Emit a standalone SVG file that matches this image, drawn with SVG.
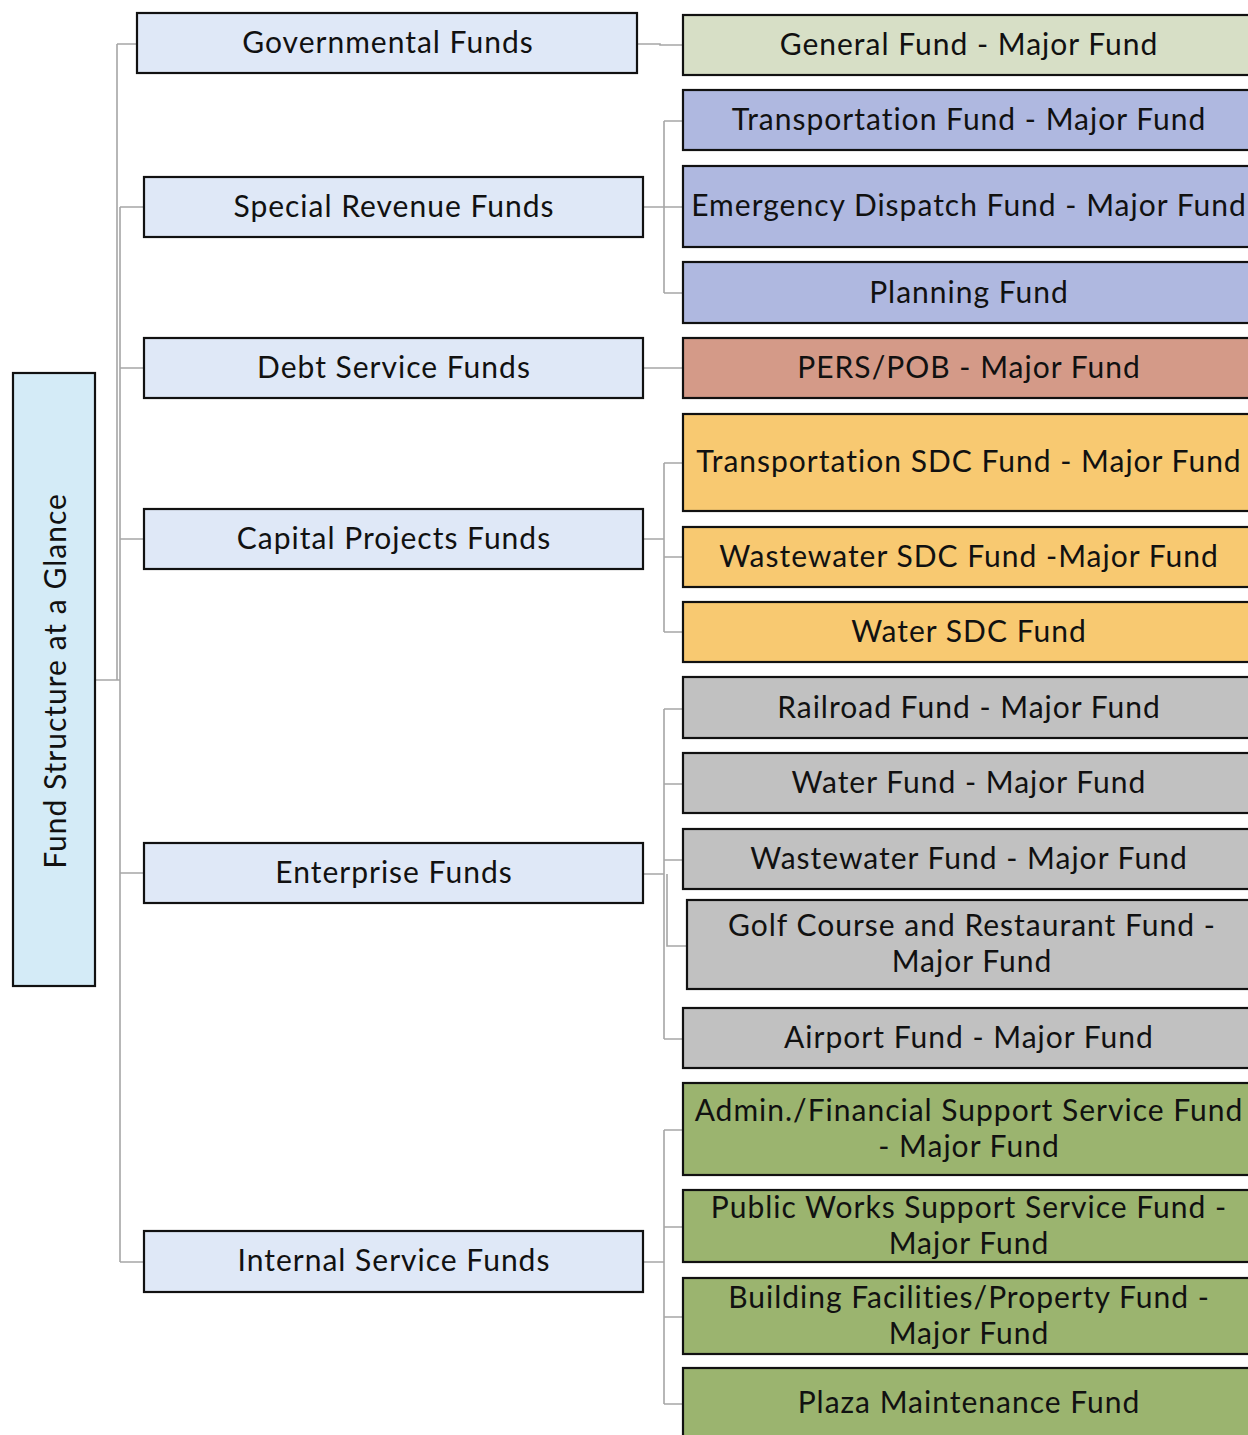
<svg xmlns="http://www.w3.org/2000/svg" width="1248" height="1435" viewBox="0 0 1248 1435">
<style>
.b{stroke:#111;stroke-width:2.2}
.l1{fill:#DFE8F7}
.t{font-family:Lato,"Noto Sans",sans-serif;font-size:30px;fill:#111;text-anchor:middle;letter-spacing:1px}
.c{fill:none;stroke:#A6A6A6;stroke-width:1.6}
.gen{fill:#D7DFC6}.blu{fill:#AFB8E0}.per{fill:#D49A88}.org{fill:#F8C971}.gry{fill:#C1C1C1}.grn{fill:#9BB46F}
</style>
<rect width="1248" height="1435" fill="#fff"/>
<g id="connectors" class="c">
<path d="M95 680H120M117 44V680M117 44H137M120 207V1262M120 207H144M120 368H144M120 539H144M120 873H144M120 1262H144"/>
<path d="M637 44H660V45H683"/>
<path d="M643 207H683M664 121V293M664 121H683M664 293H683"/>
<path d="M643 368H683"/>
<path d="M643 539H664M664 463V632M664 463H683M664 557H683M664 632H683"/>
<path d="M643 874H664M664 709V1039M664 709H683M664 784H683M664 860H683M667 874V946H687M664 1039H683"/>
<path d="M643 1262H664M664 1130V1404M664 1130H683M664 1227H683M664 1317H683M664 1404H683"/>
</g>
<g id="root"><rect class="b" x="13" y="373" width="82" height="613" fill="#D4EBF7"/><text class="t" transform="translate(66 681) rotate(-90)">Fund Structure at a Glance</text></g>
<g id="governmental"><rect class="b l1" x="137" y="13" width="500" height="60"/><text class="t" x="388" y="53">Governmental Funds</text></g>
<g id="special-revenue"><rect class="b l1" x="144" y="177" width="499" height="60"/><text class="t" x="394" y="217">Special Revenue Funds</text></g>
<g id="debt-service"><rect class="b l1" x="144" y="338" width="499" height="60"/><text class="t" x="394" y="378">Debt Service Funds</text></g>
<g id="capital-projects"><rect class="b l1" x="144" y="509" width="499" height="60"/><text class="t" x="394" y="549">Capital Projects Funds</text></g>
<g id="enterprise"><rect class="b l1" x="144" y="843" width="499" height="60"/><text class="t" x="394" y="883">Enterprise Funds</text></g>
<g id="internal-service"><rect class="b l1" x="144" y="1231" width="499" height="61"/><text class="t" x="394" y="1271">Internal Service Funds</text></g>
<g id="general"><rect class="b gen" x="683" y="15" width="580" height="60"/><text class="t" x="969" y="55">General Fund - Major Fund</text></g>
<g id="transportation"><rect class="b blu" x="683" y="90" width="580" height="60"/><text class="t" x="969" y="130">Transportation Fund - Major Fund</text></g>
<g id="emergency"><rect class="b blu" x="683" y="166" width="580" height="81"/><text class="t" x="969" y="216">Emergency Dispatch Fund - Major Fund</text></g>
<g id="planning"><rect class="b blu" x="683" y="262" width="580" height="61"/><text class="t" x="969" y="303">Planning Fund</text></g>
<g id="pers"><rect class="b per" x="683" y="338" width="580" height="60"/><text class="t" x="969" y="378">PERS/POB - Major Fund</text></g>
<g id="transportation-sdc"><rect class="b org" x="683" y="414" width="580" height="97"/><text class="t" x="969" y="472">Transportation SDC Fund - Major Fund</text></g>
<g id="wastewater-sdc"><rect class="b org" x="683" y="527" width="580" height="60"/><text class="t" x="969" y="567">Wastewater SDC Fund -Major Fund</text></g>
<g id="water-sdc"><rect class="b org" x="683" y="602" width="580" height="60"/><text class="t" x="969" y="642">Water SDC Fund</text></g>
<g id="railroad"><rect class="b gry" x="683" y="677" width="580" height="61"/><text class="t" x="969" y="718">Railroad Fund - Major Fund</text></g>
<g id="water"><rect class="b gry" x="683" y="753" width="580" height="60"/><text class="t" x="969" y="793">Water Fund - Major Fund</text></g>
<g id="wastewater"><rect class="b gry" x="683" y="829" width="580" height="60"/><text class="t" x="969" y="869">Wastewater Fund - Major Fund</text></g>
<g id="golf"><rect class="b gry" x="687" y="900" width="576" height="89"/><text class="t" x="972" y="936">Golf Course and Restaurant Fund -</text><text class="t" x="972" y="972">Major Fund</text></g>
<g id="airport"><rect class="b gry" x="683" y="1008" width="580" height="60"/><text class="t" x="969" y="1048">Airport Fund - Major Fund</text></g>
<g id="admin"><rect class="b grn" x="683" y="1083" width="580" height="92"/><text class="t" x="969" y="1121">Admin./Financial Support Service Fund</text><text class="t" x="969" y="1157">- Major Fund</text></g>
<g id="public-works"><rect class="b grn" x="683" y="1190" width="580" height="72"/><text class="t" x="969" y="1218">Public Works Support Service Fund -</text><text class="t" x="969" y="1254">Major Fund</text></g>
<g id="building"><rect class="b grn" x="683" y="1278" width="580" height="76"/><text class="t" x="969" y="1308">Building Facilities/Property Fund -</text><text class="t" x="969" y="1344">Major Fund</text></g>
<g id="plaza"><rect class="b grn" x="683" y="1368" width="580" height="80"/><text class="t" x="969" y="1413">Plaza Maintenance Fund</text></g>
</svg>
